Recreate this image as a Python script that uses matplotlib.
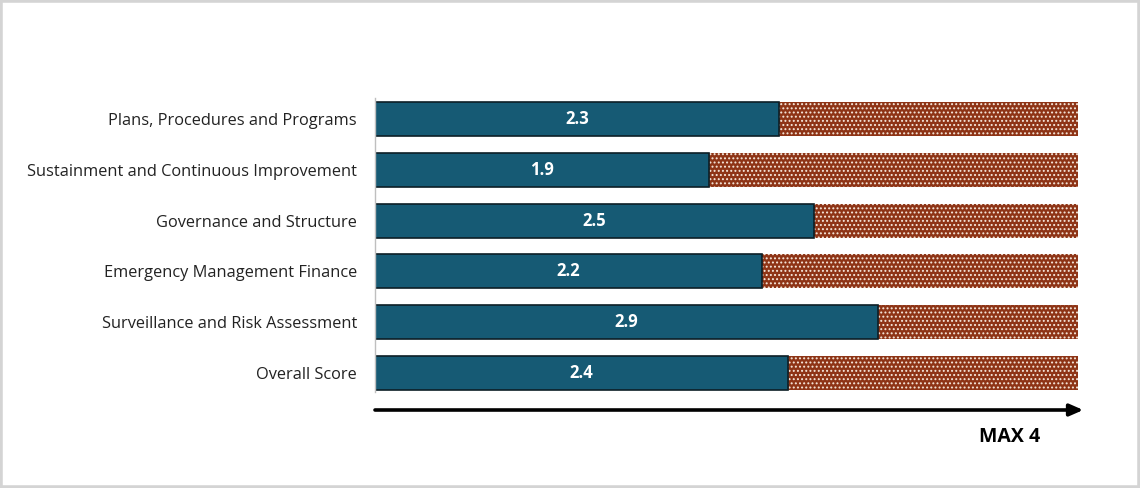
import matplotlib.pyplot as plt
from matplotlib.patches import Rectangle
from matplotlib.transforms import blended_transform_factory

plt.rcParams['font.family'] = ['Open Sans', 'DejaVu Sans']
plt.rcParams['hatch.linewidth'] = 0.9

# --- Data -----------------------------------------------------------------
categories = [
    "Plans, Procedures and Programs",
    "Sustainment and Continuous Improvement",
    "Governance and Structure",
    "Emergency Management Finance",
    "Surveillance and Risk Assessment",
    "Overall Score",
]
scores = [2.3, 1.9, 2.5, 2.2, 2.86, 2.35]
max_score = 4

BAR_COLOR = "#165a74"
REST_COLOR = "#8e3416"

# --------------------------------------------------------------------------

fig = plt.figure(figsize=(11.4, 4.88), dpi=100, facecolor="white")
fig.patches.append(Rectangle((0, 0), 1, 1, transform=fig.transFigure,
                             fill=False, edgecolor="#d4d4d4", linewidth=4))

ax = fig.add_axes([375 / 1140, 1 - 392 / 488, 703 / 1140, 294 / 488])

ypos = list(range(len(categories)))
remaining = [max_score - s for s in scores]

ax.barh(ypos, remaining, left=scores, height=0.67, color=REST_COLOR,
        edgecolor="#f6e8dc", hatch="....", linewidth=0)
ax.barh(ypos, scores, height=0.67, color=BAR_COLOR,
        edgecolor="#0d1f26", linewidth=1.2)

for y, s in zip(ypos, scores):
    ax.text(s / 2, y, f"{s:.1f}", ha="center", va="center",
            color="white", fontsize=12, fontweight="bold")

ax.set_xlim(0, max_score)
ax.set_ylim(5.37, -0.41)
ax.set_yticks(ypos)
ax.set_yticklabels(categories, fontsize=11.8, color="#222222")
ax.tick_params(axis="y", length=0, pad=13)
ax.set_xticks([])
for side in ["top", "right", "bottom"]:
    ax.spines[side].set_visible(False)
ax.spines["left"].set_color("#bfbfbf")
ax.spines["left"].set_linewidth(1.0)

# axis arrow underneath
trans = blended_transform_factory(ax.transData, fig.transFigure)
ax.annotate("", xy=(4.03, 1 - 410 / 488), xytext=(0, 1 - 410 / 488),
            xycoords=trans, textcoords=trans, annotation_clip=False,
            arrowprops=dict(arrowstyle="-|>,head_length=0.8,head_width=0.35",
                            color="black", linewidth=2.6, shrinkA=0, shrinkB=0))
fig.text(1010 / 1140, 1 - 437 / 488, "MAX 4", ha="center", va="center",
         fontsize=14, fontweight="bold", color="black")

plt.savefig("out.png", dpi=100, facecolor="white")
